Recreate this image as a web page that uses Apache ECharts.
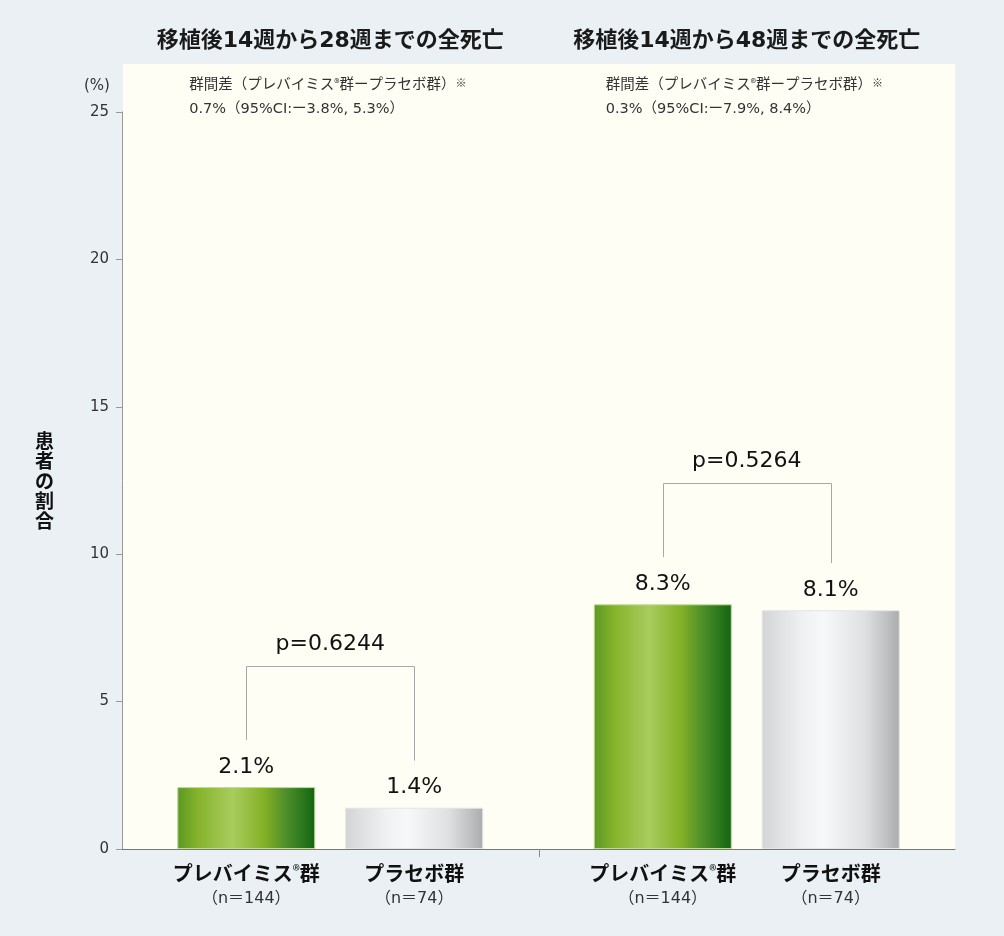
<!DOCTYPE html>
<html>
<head>
<meta charset="utf-8">
<script src="https://cdn.jsdelivr.net/npm/echarts@6/dist/echarts.min.js"></script>
<style>
  html, body { margin: 0; padding: 0; background: #ebf0f5; }
  #main { width: 1004px; height: 936px; }
</style>
</head>
<body>
<div id="main"></div>
<script>
// データ
const periods = ['移植後14週から28週までの全死亡', '移植後14週から48週までの全死亡'];
const diffNotes = [
  ['群間差（プレバイミス®群ープラセボ群）※', '0.7%（95%CI:ー3.8%, 5.3%）'],
  ['群間差（プレバイミス®群ープラセボ群）※', '0.3%（95%CI:ー7.9%, 8.4%）']
];
const arms = ['プレバイミス®群', 'プラセボ群'];
const armN = [144, 74];
const letermovirValues = [2.1, 8.3];
const placeboValues = [1.4, 8.1];
const pValues = ['0.6244', '0.5264'];
const yTicks = [0, 5, 10, 15, 20, 25];

const FONT = '"DejaVu Sans", "Noto Sans CJK JP", sans-serif';
const JFONT = '"Noto Sans CJK JP", sans-serif';
const GRID_L = 122, GRID_R = 49, GRID_T = 112, GRID_B = 87;
const BAR_W = 138, GAP_PX = 30;
const bandW = (1004 - GRID_L - GRID_R) / periods.length;

var chartDom = document.getElementById('main');
var myChart = echarts.init(chartDom);

const greenFill = {
  type: 'linear', x: 0, y: 0, x2: 1, y2: 0,
  colorStops: [
    { offset: 0, color: '#5a9822' },
    { offset: 0.15, color: '#86b32c' },
    { offset: 0.4, color: '#a9cc5e' },
    { offset: 0.63, color: '#84b126' },
    { offset: 0.8, color: '#4a8c2a' },
    { offset: 1, color: '#116610' }
  ]
};
const grayFill = {
  type: 'linear', x: 0, y: 0, x2: 1, y2: 0,
  colorStops: [
    { offset: 0, color: '#d3d4d5' },
    { offset: 0.3, color: '#f0f1f2' },
    { offset: 0.45, color: '#f7f8f9' },
    { offset: 0.75, color: '#dfe0e1' },
    { offset: 1, color: '#abacad' }
  ]
};

// ®・※を上付きにする
function supMarks(s, base) {
  return s.split(/([®※])/).filter(x => x).map(x =>
    (x === '®' || x === '※') ? '{sup|' + x + '}' : '{' + base + '|' + x + '}'
  ).join('');
}

// 群名ラベル
function armLabel(i) {
  return supMarks(arms[i], 'b') + '\n{n|（n＝' + armN[i] + '）}';
}

const valueLabel = {
  show: true,
  position: 'top',
  distance: 9,
  fontSize: 22,
  color: '#111',
  fontFamily: FONT,
  formatter: p => p.value.toFixed(1) + '%'
};

const armLabelStyle = (i) => ({
  show: true,
  position: 'bottom',
  distance: 12,
  formatter: () => armLabel(i),
  rich: {
    b: { fontSize: 20, fontWeight: 'bold', color: '#111', fontFamily: JFONT, lineHeight: 25 },
    sup: { fontSize: 15, color: '#111', fontFamily: JFONT, padding: [0, 0, 6, 0] },
    n: { fontSize: 16, color: '#333', fontFamily: FONT, lineHeight: 25 }
  }
});

// 括弧（p値）
const bracketData = periods.map((_, i) => {
  const a = letermovirValues[i], b = placeboValues[i];
  return [i, Math.max(a, b) + 4.1, a + 1.6, b + 1.6];
});

const noteRich = {
  t: { fontSize: 14.5, fontWeight: 'normal', color: '#333', fontFamily: FONT, lineHeight: 24 },
  sup: { fontSize: 11, fontWeight: 'normal', color: '#333', fontFamily: JFONT, padding: [0, 0, 5, 0] }
};

const titleItems = [];
periods.forEach((t, i) => {
  const cx = GRID_L + bandW * (i + 0.5);
  titleItems.push({
    text: t, left: cx, top: 30, textAlign: 'center', padding: 0,
    textStyle: { fontSize: 22, fontWeight: 'bold', color: '#1a1a1a', fontFamily: FONT }
  });
  titleItems.push({
    text: diffNotes[i].map(line => supMarks(line, 't')).join('\n'),
    left: cx - 141, top: 73, padding: 0,
    textStyle: { fontWeight: 'normal', rich: noteRich }
  });
});

var option = {
  backgroundColor: '#ebf0f5',
  animation: false,
  title: titleItems,
  graphic: [
    {
      type: 'rect', z: -10, left: GRID_L + 1, top: 64,
      shape: { width: 1004 - GRID_L - GRID_R - 1, height: 936 - GRID_B - 64 },
      style: { fill: '#fefef5' }
    },
    {
      type: 'text', left: 84, top: 79,
      style: { text: '(%)', fontSize: 15, fill: '#333', fontFamily: FONT }
    }
  ],
  grid: { left: GRID_L, right: GRID_R, top: GRID_T, bottom: GRID_B },
  xAxis: [
    {
      type: 'category',
      data: periods,
      axisLine: { lineStyle: { color: '#777', width: 1 } },
      axisTick: { show: false },
      axisLabel: { show: false }
    },
    {
      type: 'category',
      data: periods,
      position: 'bottom',
      show: false
    }
  ],
  yAxis: {
    type: 'value',
    min: yTicks[0],
    max: yTicks[yTicks.length - 1],
    interval: yTicks[1] - yTicks[0],
    name: '患\n者\nの\n割\n合',
    nameLocation: 'middle',
    nameRotate: 0,
    nameGap: 68,
    nameTextStyle: { fontSize: 19, fontWeight: 'bold', color: '#111', fontFamily: JFONT, lineHeight: 20 },
    axisLine: { show: true, lineStyle: { color: '#999' } },
    axisTick: { show: true, length: 6, lineStyle: { color: '#999' } },
    splitLine: { show: false },
    axisLabel: { fontSize: 15, color: '#333', fontFamily: FONT, margin: 13 }
  },
  series: [
    {
      name: arms[0],
      type: 'bar',
      xAxisIndex: 0,
      data: letermovirValues,
      barWidth: BAR_W,
      barGap: (GAP_PX / BAR_W * 100).toFixed(1) + '%',
      itemStyle: { color: greenFill, borderColor: '#c2d99a', borderWidth: 1 },
      label: valueLabel,
      z: 3
    },
    {
      name: arms[1],
      type: 'bar',
      xAxisIndex: 0,
      data: placeboValues,
      barWidth: BAR_W,
      itemStyle: { color: grayFill, borderColor: '#e4e5e6', borderWidth: 1 },
      label: valueLabel,
      z: 3
    },
    {
      name: arms[0] + 'ラベル',
      type: 'bar',
      xAxisIndex: 1,
      data: periods.map(() => 0),
      barWidth: BAR_W,
      barGap: (GAP_PX / BAR_W * 100).toFixed(1) + '%',
      itemStyle: { color: 'transparent' },
      label: armLabelStyle(0),
      silent: true
    },
    {
      name: arms[1] + 'ラベル',
      type: 'bar',
      xAxisIndex: 1,
      data: periods.map(() => 0),
      barWidth: BAR_W,
      itemStyle: { color: 'transparent' },
      label: armLabelStyle(1),
      silent: true
    },
    {
      type: 'custom',
      xAxisIndex: 0,
      data: bracketData,
      silent: true,
      clip: false,
      z: 4,
      renderItem: function (params, api) {
        const top = api.coord([api.value(0), api.value(1)]);
        const base = api.coord([api.value(0), 0]);
        const band = api.size([1, 0])[0];
        const half = (BAR_W + GAP_PX) / 2;
        const xl = Math.round(top[0] - half) + 0.5;
        const xr = Math.round(top[0] + half) + 0.5;
        const yt = Math.round(top[1]) + 0.5;
        const yl = api.coord([api.value(0), api.value(2)])[1];
        const yr = api.coord([api.value(0), api.value(3)])[1];
        const children = [
          {
            type: 'polyline',
            shape: { points: [[xl, yl], [xl, yt], [xr, yt], [xr, yr]] },
            style: { stroke: '#a8a8a8', lineWidth: 1, fill: null }
          },
          {
            type: 'text',
            style: {
              text: 'p=' + pValues[params.dataIndex],
              x: top[0], y: yt - 11,
              align: 'center', verticalAlign: 'bottom',
              fontSize: 22, fill: '#111', fontFamily: FONT
            }
          }
        ];
        // 期間の区切り目盛
        if (params.dataIndex > 0) {
          const xs = Math.round(base[0] - band / 2) + 0.5;
          children.push({
            type: 'line',
            shape: { x1: xs, y1: base[1], x2: xs, y2: base[1] + 8 },
            style: { stroke: '#888', lineWidth: 1 }
          });
        }
        return { type: 'group', children: children };
      }
    }
  ]
};

option && myChart.setOption(option);
</script>
</body>
</html>
